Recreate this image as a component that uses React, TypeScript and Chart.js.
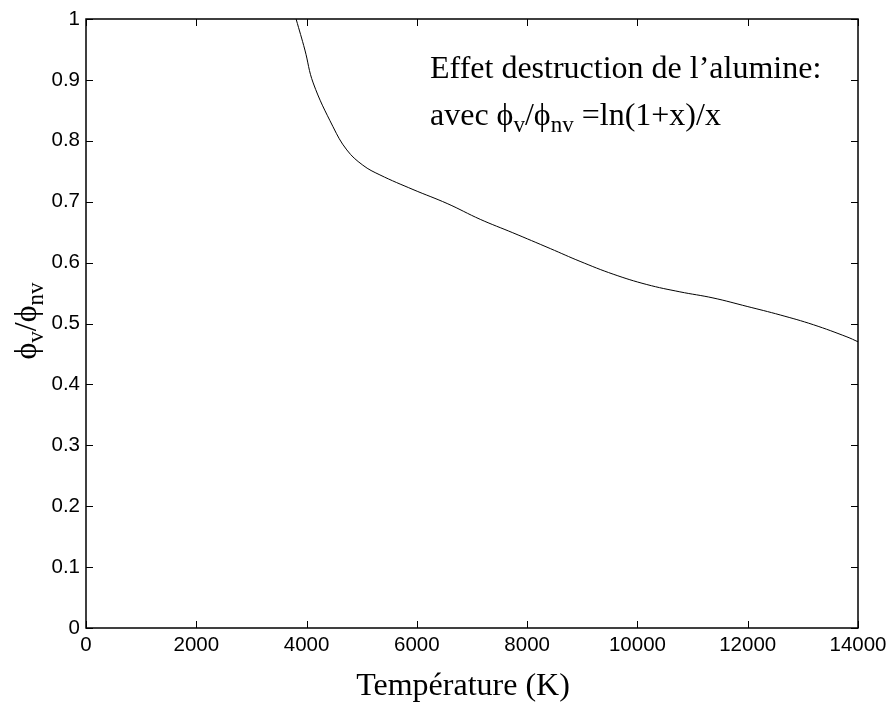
import React, { useEffect, useRef } from "react";
import { Chart, registerables } from "chart.js";

Chart.register(...registerables);

// Data
const temperatures = [3810, 3970, 4120, 4480, 4730, 5020, 5330, 5930, 6550, 7150, 7740, 8420, 8960, 9560, 10170, 10770, 11370, 11990, 12590, 13190, 13800, 14000];
const ratios = [1.0, 0.949, 0.895, 0.823, 0.785, 0.760, 0.744, 0.720, 0.697, 0.671, 0.649, 0.623, 0.602, 0.581, 0.564, 0.552, 0.542, 0.528, 0.514, 0.498, 0.478, 0.470];

const xTitle = "Température (K)";
const annotationLine1 = "Effet destruction de l\u2019alumine:";
const annotationLine2 = [
  { t: "avec \u03D5", sub: false },
  { t: "v", sub: true },
  { t: "/\u03D5", sub: false },
  { t: "nv", sub: true },
  { t: " =ln(1+x)/x", sub: false },
];
const yTitle = [
  { t: "\u03D5", sub: false },
  { t: "v", sub: true },
  { t: "/\u03D5", sub: false },
  { t: "nv", sub: true },
];

const SERIF = '"Liberation Serif", "Times New Roman", "DejaVu Serif", serif';
const SANS = '"Liberation Sans", Arial, Helvetica, sans-serif';
const MAIN = 32;
const SUB = 23;
const SUBOFF = 7;

function drawRuns(ctx: CanvasRenderingContext2D, runs: { t: string; sub: boolean }[], x: number, y: number, align: "left" | "center") {
  let total = 0;
  for (const r of runs) {
    ctx.font = `${r.sub ? SUB : MAIN}px ${SERIF}`;
    total += ctx.measureText(r.t).width;
  }
  let cx = align === "center" ? x - total / 2 : x;
  ctx.textAlign = "left";
  ctx.textBaseline = "alphabetic";
  for (const r of runs) {
    ctx.font = `${r.sub ? SUB : MAIN}px ${SERIF}`;
    ctx.fillText(r.t, cx, y + (r.sub ? SUBOFF : 0));
    cx += ctx.measureText(r.t).width;
  }
}

const matlabPlugin = {
  id: "matlabFrame",
  afterDraw(chart: any) {
    const ctx: CanvasRenderingContext2D = chart.ctx;
    const { left, right, top, bottom } = chart.chartArea;
    const xs = chart.scales.x;
    const ys = chart.scales.y;
    ctx.save();
    // inward ticks on all sides
    ctx.strokeStyle = "#000";
    ctx.lineWidth = 1;
    const tl = 7;
    ctx.beginPath();
    xs.ticks.forEach((t: any) => {
      const px = Math.round(xs.getPixelForValue(t.value)) + 0.5;
      ctx.moveTo(px, bottom);
      ctx.lineTo(px, bottom - tl);
      ctx.moveTo(px, top);
      ctx.lineTo(px, top + tl);
    });
    ys.ticks.forEach((t: any) => {
      const py = Math.round(ys.getPixelForValue(t.value)) + 0.5;
      ctx.moveTo(left, py);
      ctx.lineTo(left + tl, py);
      ctx.moveTo(right, py);
      ctx.lineTo(right - tl, py);
    });
    ctx.stroke();
    // box
    ctx.lineWidth = 1.5;
    ctx.strokeRect(left, top, right - left, bottom - top);

    ctx.fillStyle = "#000";
    // x title
    ctx.font = `${MAIN}px ${SERIF}`;
    ctx.textAlign = "center";
    ctx.textBaseline = "alphabetic";
    ctx.fillText(xTitle, 463, 695);

    // annotation
    ctx.textAlign = "left";
    ctx.font = `${MAIN}px ${SERIF}`;
    ctx.fillText(annotationLine1, 430, 78);
    drawRuns(ctx, annotationLine2, 430, 125, "left");

    // y title (rotated)
    ctx.save();
    ctx.translate(36, 321);
    ctx.rotate(-Math.PI / 2);
    drawRuns(ctx, yTitle, 0, 0, "center");
    ctx.restore();

    ctx.restore();
  },
};

export default function App() {
  const ref = useRef<HTMLCanvasElement | null>(null);
  useEffect(() => {
    if (!ref.current) return;
    const chart = new Chart(ref.current, {
      type: "line",
      data: {
        datasets: [
          {
            data: temperatures.map((t, i) => ({ x: t, y: ratios[i] })),
            borderColor: "#000",
            borderWidth: 1,
            pointRadius: 0,
            tension: 0.4,
            fill: false,
          },
        ],
      },
      options: {
        animation: false,
        responsive: false,
        devicePixelRatio: 1,
        layout: { padding: { left: 0, top: 19, right: 29, bottom: 0 } },
        plugins: { legend: { display: false }, tooltip: { enabled: false } },
        scales: {
          x: {
            type: "linear",
            min: 0,
            max: 14000,
            grid: { display: false, drawTicks: false },
            border: { display: false },
            ticks: {
              stepSize: 2000,
              color: "#000",
              font: { family: SANS, size: 20.5 },
              padding: 5,
              maxRotation: 0,
              callback: (v: any) => String(v),
            },
            afterFit: (s: any) => {
              s.height = 76;
              s.paddingLeft = 0;
              s.paddingRight = 0;
            },
          },
          y: {
            type: "linear",
            min: 0,
            max: 1,
            grid: { display: false, drawTicks: false },
            border: { display: false },
            ticks: {
              stepSize: 0.1,
              color: "#000",
              font: { family: SANS, size: 20.5 },
              padding: 6,
              callback: (v: any) => String(Math.round(v * 10) / 10),
            },
            afterFit: (s: any) => {
              s.width = 86;
              s.paddingTop = 0;
              s.paddingBottom = 0;
            },
          },
        },
      } as any,
      plugins: [matlabPlugin],
    });
    return () => chart.destroy();
  }, []);
  return (
    <div style={{ position: "absolute", left: 0, top: 0, width: 887, height: 704, background: "#fff" }}>
      <canvas ref={ref} width={887} height={704} style={{ width: 887, height: 704, display: "block" }} />
    </div>
  );
}
